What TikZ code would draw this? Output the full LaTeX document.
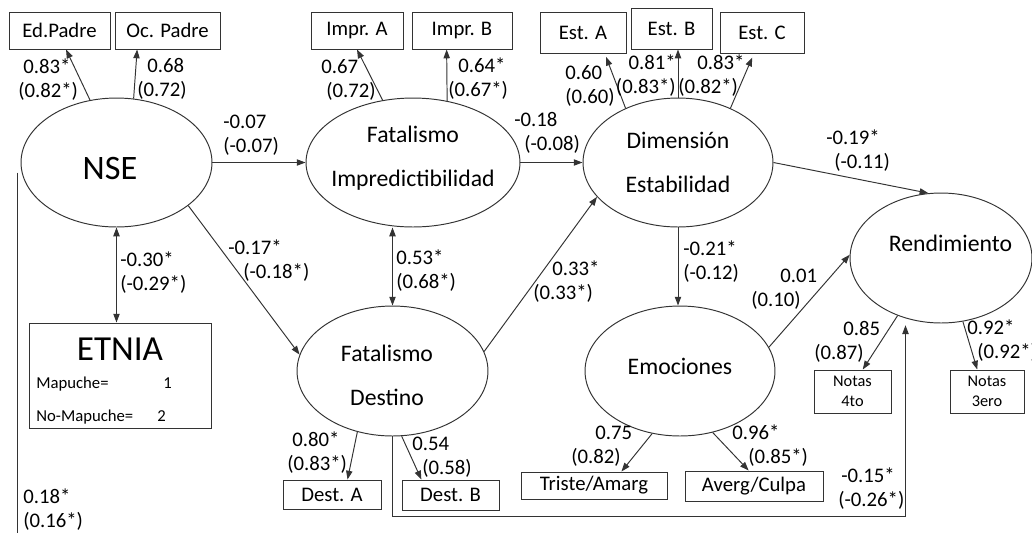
\documentclass[tikz,border=0pt]{standalone}
\usepackage{fontspec}
\setmainfont{Carlito}
\usetikzlibrary{arrows.meta,shapes.geometric}
\newcommand{\lpad}[1]{\hspace*{#1}}

\tikzset{
  conn/.style={draw=black!80, line width=0.55pt, -{Triangle[length=5pt,width=3.6pt]}},
  corr/.style={conn, {Triangle[length=5pt,width=3.6pt]}-{Triangle[length=5pt,width=3.6pt]}},
  plain/.style={draw=black!80, line width=0.55pt},
  obs/.style={draw=black!80, line width=0.55pt, inner sep=0pt, font=\fontsize{11.8}{14}\selectfont},
  latent/.style={ellipse, draw=black!80, line width=0.55pt, inner sep=0pt},
  lattext/.style={font=\fontsize{13.5}{25}\selectfont, align=center, inner sep=0pt},
  coef/.style={inner sep=0pt, align=left, anchor=west, font=\fontsize{11.8}{13.7}\selectfont},
  small/.style={inner sep=0pt, font=\fontsize{9.5}{11}\selectfont}
}

\begin{document}
\begin{tikzpicture}[x=0.02cm,y=-0.02cm]
\useasboundingbox (0,0) rectangle (1032,532);

% Indicadores
\node[obs, minimum width=2.02cm, minimum height=0.74cm] (edp) at (59.5,30.5) {Ed.Padre};
\node[obs, minimum width=2.1cm, minimum height=0.74cm] (ocp) at (167.5,30.5) {Oc. Padre};
\node[obs, minimum width=1.84cm, minimum height=0.74cm] (ia) at (357,30.5) {Impr. A};
\node[obs, minimum width=2cm, minimum height=0.74cm] (ib) at (462,30.5) {Impr. B};
\node[obs, minimum width=1.72cm, minimum height=0.82cm] (ea) at (583,32.5) {Est. A};
\node[obs, minimum width=1.62cm, minimum height=0.82cm] (eb) at (671.5,28.5) {Est. B};
\node[obs, minimum width=1.68cm, minimum height=0.82cm] (ec) at (762,32.5) {Est. C};
\node[obs, minimum width=1.96cm, minimum height=0.58cm] (da) at (332,494.5) {Dest. A};
\node[obs, minimum width=1.94cm, minimum height=0.6cm] (db) at (450.5,495) {Dest. B};
\node[obs, minimum width=2.92cm, minimum height=0.54cm] (tri) at (594,485.5) {Triste/Amarg};
\node[obs, minimum width=2.76cm, minimum height=0.6cm] (avg) at (754,486) {Averg/Culpa};
\node[obs, font=\fontsize{9.3}{11.4}\selectfont, align=center, minimum width=1.54cm, minimum height=0.86cm] (n4) at (852.5,391.5) {Notas\\4to};
\node[obs, font=\fontsize{9.3}{11.4}\selectfont, align=center, minimum width=1.48cm, minimum height=0.86cm] (n3) at (987,391.5) {Notas\\3ero};

% Variables latentes
\node[latent, minimum width=3.82cm, minimum height=2.58cm,
  label={[font=\fontsize{19.5}{23}\selectfont, xshift=-0.13cm, yshift=-0.11cm]center:NSE}] (nse) at (116.5,162.5) {};
\node[latent, minimum width=4.28cm, minimum height=2.58cm,
  label={[lattext, yshift=0.08cm]center:Fatalismo\\Impredictibilidad}] (fi) at (413,162.5) {};
\node[latent, minimum width=3.8cm, minimum height=2.58cm,
  label={[lattext]center:Dimensión\\Estabilidad}] (de) at (678,162.5) {};
\node[latent, minimum width=3.64cm, minimum height=2.6cm,
  label={[lattext, xshift=0.19cm, yshift=0.3cm]center:Rendimiento}] (rend) at (941,258) {};
\node[latent, minimum width=3.82cm, minimum height=2.6cm,
  label={[lattext, xshift=-0.11cm, yshift=-0.09cm]center:Fatalismo\\Destino}] (fd) at (392.5,371) {};
\node[latent, minimum width=3.8cm, minimum height=2.6cm,
  label={[lattext, yshift=0.1cm]center:Emociones}] (emo) at (680,371) {};

% ETNIA
\node[obs, minimum width=3.64cm, minimum height=2.1cm] (etnia) at (120,375.5) {};
\node[font=\fontsize{20}{24}\selectfont, inner sep=0pt] (etniat) at (120,349) {ETNIA};
\node[small, anchor=base west] (mapu) at (36,388) {Mapuche=};
\node[small, anchor=base west] (mapuv) at (163,388) {1};
\node[small, anchor=base west] (nomapu) at (36,421) {No-Mapuche=};
\node[small, anchor=base west] (nomapuv) at (157,421) {2};

% Cargas
\draw[conn] (nse.113) -- (edp.289);
\draw[conn] (nse.75) -- (ocp.212);
\draw[conn] (fi.116) -- (ia.south);
\draw[conn] (fi.61) -- (ib.231);
\draw[conn, shorten >=2pt] (de.134) -- (ea.316);
\draw[conn] (de.north) -- (de.north |- eb.south);
\draw[conn, shorten >=2.5pt] (de.46) -- (ec.249);
\draw[conn] (fd.240) -- (da.44);
\draw[conn] (fd.278) -- (db.152);
\draw[conn] (emo.246) -- (tri.27);
\draw[conn] (emo.298) -- (avg.109);
\draw[conn] (rend.233) -- (n4.65);
\draw[conn] (rend.289) -- (n3.114);

% Relaciones estructurales
\coordinate (ret) at (905.5,516);
\coordinate (cut) at (0,545);
\draw[conn] (nse.east) -- (fi.west);
\draw[conn] (fi.east) -- (de.west);
\draw[conn] (de.east) -- (rend.101);
\draw[corr] (nse.south) -- (nse.south |- etnia.north);
\draw[conn] (nse.329) -- (fd.170);
\draw[corr] (fd.north |- fi.south) -- (fd.north);
\draw[conn] (fd.12) -- (de.203);
\draw[conn] (de.south) -- (de.south |- emo.north);
\draw[conn] (emo.15) -- (rend.178);
\draw[conn, shorten >=1pt] (fd.south) |- (ret) -- (ret |- rend.south);
\draw[plain] ([xshift=-0.06cm,yshift=-0.2cm]nse.west) -- ([xshift=-0.06cm]nse.west |- cut);

% Coeficientes
\node[coef] (c-edp) at (18,79.5) {\lpad{0.1cm}0.83*\\(0.82*)};
\node[coef] (c-ocp) at (137,78.5) {\lpad{0.2cm}0.68\\(0.72)};
\node[coef] (c-nsefi) at (223,135.5) {-0.07\\(-0.07)};
\node[coef] (c-ia) at (321,79.5) {0.67\\\lpad{0.1cm}(0.72)};
\node[coef] (c-ib) at (448,78.5) {\lpad{0.2cm}0.64*\\(0.67*)};
\node[coef] (c-fide) at (514,132.5) {-0.18\\\lpad{0.2cm}(-0.08)};
\node[coef] (c-ea) at (565,85.5) {0.60\\(0.60)};
\node[coef, anchor=east, align=right] (c-eb) at (676,76) {0.81*\\(0.83*)};
\node[coef] (c-ec) at (678,76) {\lpad{0.38cm}0.83*\\(0.82*)};
\node[coef] (c-derend) at (826,150.5) {-0.19*\\\lpad{0.16cm}(-0.11)};
\node[coef] (c-etnia) at (120,272.5) {-0.30*\\(-0.29*)};
\node[coef] (c-nsefd) at (228,260.5) {-0.17*\\\lpad{0.3cm}(-0.18*)};
\node[coef] (c-fifd) at (396,271) {0.53*\\(0.68*)};
\node[coef] (c-fdde) at (533,281.5) {\lpad{0.38cm}0.33*\\(0.33*)};
\node[coef] (c-deemo) at (683,261.5) {-0.21*\\(-0.12)};
\node[coef] (c-emorend) at (751,289.5) {\lpad{0.58cm}0.01\\(0.10)};
\node[coef] (c-n4) at (814,341.5) {\lpad{0.58cm}0.85\\(0.87)};
\node[coef] (c-n3) at (967,340.5) {0.92*\\\lpad{0.2cm}(0.92*)};
\node[coef] (c-tri) at (571,446) {\lpad{0.48cm}0.75\\(0.82)};
\node[coef] (c-avg) at (732,446) {0.96*\\\lpad{0.32cm}(0.85*)};
\node[coef] (c-da) at (287,452.5) {\lpad{0.1cm}0.80*\\(0.83*)};
\node[coef] (c-db) at (412,457.5) {0.54\\\lpad{0.2cm}(0.58)};
\node[coef] (c-fdrend) at (838,488.5) {\lpad{0.06cm}-0.15*\\(-0.26*)};
\node[coef] (c-nse) at (23,510) {0.18*\\(0.16*)};
\end{tikzpicture}
\end{document}
